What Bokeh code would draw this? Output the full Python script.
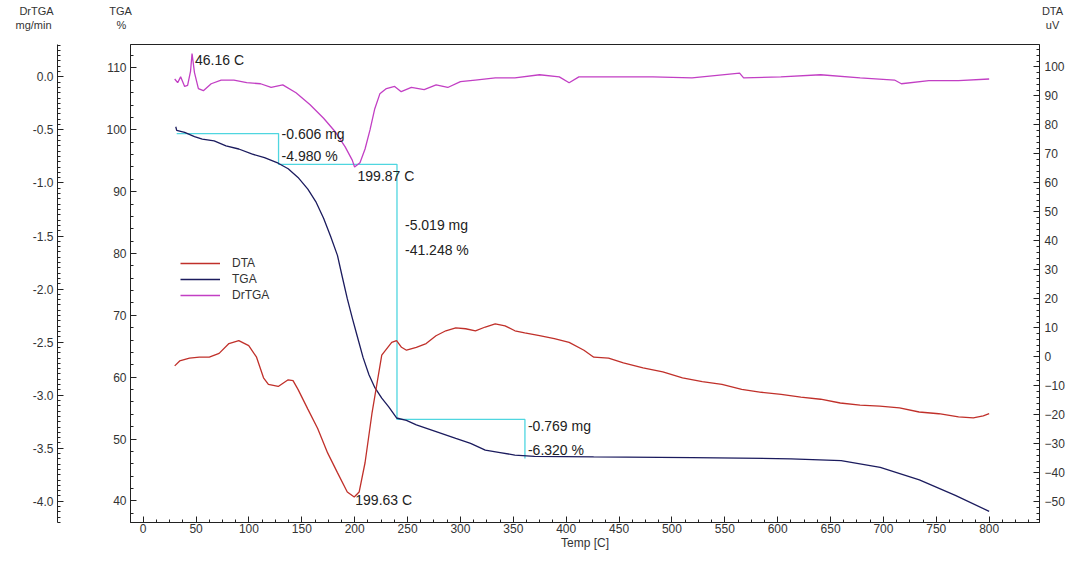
import numpy as np
from bokeh.plotting import figure
from bokeh.layouts import column
from bokeh.models import (Range1d, LinearAxis, FixedTicker, NumeralTickFormatter,
                          Legend, LegendItem)
from bokeh.embed import file_html
from bokeh.resources import INLINE
from bokeh.core.properties import value

# ---------------- data ----------------
temp_tga = [30.8, 31.7, 39.2, 48.5, 55.9, 67.1, 78.3, 90.4, 102.6, 114.7, 127.7, 137.1,
            146.4, 155.7, 163.2, 170.6, 177.2, 183.7, 188.3, 193.0, 197.7, 202.3, 207.9,
            213.5, 219.1, 225.6, 232.2, 239.6, 248.9, 258.3, 277.0, 295.6, 309.6, 323.5,
            337.5, 351.5, 370.0, 426.0, 519.0, 612.6, 660.0, 697.0, 734.0, 768.0, 800.0]
tga_pct = [100.5, 99.9, 99.6, 98.9, 98.5, 98.2, 97.4, 96.9, 96.1, 95.5, 94.6, 93.7,
           92.3, 90.4, 88.4, 85.7, 82.8, 79.7, 76.2, 72.7, 69.6, 66.7, 63.2,
           60.4, 58.3, 56.6, 55.2, 53.4, 53.0, 52.3, 51.2, 50.1, 49.3, 48.2,
           47.8, 47.4, 47.2, 47.1, 47.0, 46.8, 46.5, 45.4, 43.4, 40.9, 38.3]

temp_dta = [29.8, 34.5, 43.8, 53.1, 62.5, 71.8, 81.1, 90.4, 99.8, 107.2, 113.8, 118.4,
            127.7, 137.1, 141.7, 146.4, 155.7, 165.0, 174.4, 183.7, 193.0, 199.6, 204.2,
            209.8, 216.3, 225.6, 235.0, 239.6, 244.3, 249.0, 258.3, 267.6, 276.9, 286.2,
            295.6, 304.9, 314.2, 323.5, 332.9, 342.2, 351.5, 360.8, 374.8, 388.8, 402.8,
            416.8, 426.1, 440.1, 454.1, 472.7, 491.4, 510.0, 528.7, 547.3, 566.0, 584.6,
            603.3, 621.9, 640.6, 659.2, 677.9, 696.5, 715.2, 733.8, 752.4, 771.0, 785.0,
            794.4, 800.0]
dta_uv = [-3.1, -1.4, -0.4, -0.1, -0.1, 1.2, 4.6, 5.6, 3.9, -0.1, -7.2, -9.5,
          -10.2, -7.9, -8.2, -11.2, -18.0, -24.7, -33.1, -39.9, -46.6, -48.3, -46.6,
          -36.5, -19.6, 0.6, 5.0, 5.6, 3.3, 2.3, 3.3, 4.6, 7.3, 9.0,
          10.0, 9.7, 9.0, 10.3, 11.4, 10.7, 9.0, 8.3, 7.3, 6.3, 5.0,
          2.3, -0.1, -0.4, -2.1, -3.8, -5.2, -7.2, -8.5, -9.5, -11.2, -12.2,
          -12.9, -13.9, -14.6, -15.9, -16.6, -17.0, -17.6, -19.0, -19.6, -20.7, -21.0,
          -20.3, -19.6]

temp_dr = [29.8, 32.6, 35.4, 39.2, 42.0, 44.8, 46.2, 48.5, 52.2, 56.9, 64.3, 73.7, 85.8,
           97.9, 111.0, 121.0, 132.0, 144.5, 157.6, 170.6, 181.8, 191.0, 197.7, 199.9,
           205.0, 209.8, 214.5, 219.0, 223.8, 230.0, 237.8, 244.0, 253.6, 265.7, 277.0,
           288.0, 300.0, 314.0, 333.0, 351.5, 374.8, 393.5, 402.8, 412.0, 444.8, 482.0,
           519.0, 564.0, 567.8, 603.0, 640.6, 678.0, 710.5, 717.0, 743.0, 771.0, 800.0]
drtga = [-0.02, -0.055, 0.0, -0.09, -0.08, 0.055, 0.22, 0.04, -0.11, -0.13, -0.065, -0.03,
         -0.03, -0.055, -0.065, -0.1, -0.075, -0.15, -0.26, -0.39, -0.52, -0.66, -0.785,
         -0.85, -0.81, -0.68, -0.5, -0.3, -0.16, -0.11, -0.09, -0.14, -0.1, -0.12, -0.075,
         -0.1, -0.045, -0.03, -0.01, -0.01, 0.02, 0.0, -0.055, 0.0, 0.0, 0.0,
         -0.01, 0.035, -0.01, 0.0, 0.02, -0.01, -0.03, -0.065, -0.035, -0.035, -0.02]

# mass-loss steps (TGA analysis)
step_temps = [31.7, 128.0, 240.0, 361.0]
step_levels = [99.4, 94.42, 53.172, 46.852]
step_mg = ["-0.606 mg", "-5.019 mg", "-0.769 mg"]
step_pct = ["-4.980 %", "-41.248 %", "-6.320 %"]

# peak labels
dr_peak_temps = [46.16, 199.87]
dta_peak_temps = [199.63]

x_ticks = list(range(0, 801, 50))
tga_ticks = list(range(40, 111, 10))
dr_ticks = [-4.0, -3.5, -3.0, -2.5, -2.0, -1.5, -1.0, -0.5, 0.0]
dta_ticks = list(range(-50, 101, 10))

axis_titles = ["DrTGA", "mg/min", "TGA", "%", "DTA", "uV"]

# ---------------- style ----------------
FONT = "Liberation Sans"
C_DTA = "#c0302a"
C_TGA = "#1b1b5e"
C_DR = "#c23fc4"
C_STEP = "#4fd6e0"
C_TXT = "#333333"
W = 1067
TOP_H = 43
MAIN_H = 509

# ---- strip above the plot holding the axis titles ----
top = figure(width=W, height=TOP_H, x_range=Range1d(0, W), y_range=Range1d(TOP_H, 0),
             output_backend="svg", toolbar_location=None, min_border=0,
             x_axis_location=None, y_axis_location=None)
if hasattr(top, "frame_align"):
    top.frame_align = False
top.grid.visible = False
top.outline_line_color = None
top.text(x=[36, 33, 120, 121, 1052, 1052], y=[10, 24, 10, 24, 10, 24], text=axis_titles,
         text_font=value(FONT), text_font_size=value("11px"), text_color=C_TXT,
         text_align="center", text_baseline="middle")

# ---- main plot ----
p = figure(width=W, height=MAIN_H,
           x_range=Range1d(-12, 847.6), y_range=Range1d(36.5, 113.8),
           output_backend="svg", toolbar_location=None,
           min_border_left=130, min_border_top=1, min_border_bottom=30, min_border_right=0)
if hasattr(p, "frame_align"):
    p.frame_align = False
p.grid.visible = False
p.outline_line_color = "#222222"
p.background_fill_color = "white"
p.border_fill_color = "white"
p.extra_y_ranges = {"dr": Range1d(-4.2, 0.305), "dta": Range1d(-57.1, 107.7)}

def style_axis(ax):
    ax.major_tick_in = 6
    ax.major_tick_out = 0
    ax.minor_tick_in = 3
    ax.minor_tick_out = 0
    ax.axis_line_color = "#222222"
    ax.major_tick_line_color = "#222222"
    ax.minor_tick_line_color = "#222222"
    ax.major_label_text_font = FONT
    ax.major_label_text_font_size = "12px"
    ax.major_label_text_color = C_TXT
    ax.major_label_standoff = 4

xa = p.xaxis[0]
style_axis(xa)
xa.ticker = FixedTicker(ticks=x_ticks, minor_ticks=list(np.arange(-12.5, 848, 12.5)))
xa.axis_label = "Temp [C]"
xa.axis_label_text_font = FONT
xa.axis_label_text_font_size = "12px"
xa.axis_label_text_font_style = "normal"
xa.axis_label_text_color = C_TXT
xa.axis_label_standoff = 0
xa.major_label_standoff = 1

ya = p.yaxis[0]
style_axis(ya)
ya.ticker = FixedTicker(ticks=tga_ticks, minor_ticks=list(range(38, 114, 2)))
ya.axis_label = "\u00a0"
ya.axis_label_text_font_size = "28px"
ya.axis_label_standoff = 12

ax_dr = LinearAxis(y_range_name="dr",
                   ticker=FixedTicker(ticks=dr_ticks, minor_ticks=list(np.round(np.arange(-4.2, 0.31, 0.05), 2))),
                   formatter=NumeralTickFormatter(format="0.0"))
style_axis(ax_dr)
p.add_layout(ax_dr, "left")

ax_dta = LinearAxis(y_range_name="dta",
                    ticker=FixedTicker(ticks=dta_ticks, minor_ticks=list(range(-56, 108, 2))))
style_axis(ax_dta)
ax_dta.major_label_standoff = 5
p.add_layout(ax_dta, "right")

# ---------------- curves ----------------
r_step = p.line(step_temps[:1] + [t for t in step_temps[1:] for _ in (0, 1)],
                [lv for lv in step_levels[:-1] for _ in (0, 1)] + step_levels[-1:],
                line_color=C_STEP, line_width=1.3)
r_dr = p.line(temp_dr, drtga, y_range_name="dr", line_color=C_DR, line_width=1.3)
r_tga = p.line(temp_tga, tga_pct, line_color=C_TGA, line_width=1.3)
r_dta = p.line(temp_dta, dta_uv, y_range_name="dta", line_color=C_DTA, line_width=1.3)

# ---------------- annotations ----------------
ann = dict(text_font=value(FONT), text_font_size=value("14px"), text_color="#222222",
           text_baseline="middle", text_align="left")
p.text(x=step_temps[1:], y=step_levels[:-1], text=step_mg,
       x_offset=[3, 8, 3], y_offset=[0, 61, 7], **ann)
p.text(x=step_temps[1:], y=[step_levels[1], step_levels[1], step_levels[3]], text=step_pct,
       x_offset=[3, 8, 3], y_offset=[-8, 86, -8], **ann)
p.text(x=dr_peak_temps, y=[max(drtga), min(drtga)], y_range_name="dr",
       text=["%.2f C" % t for t in dr_peak_temps], x_offset=[3, 3], y_offset=[6, 9], **ann)
p.text(x=dta_peak_temps, y=[min(dta_uv)], y_range_name="dta",
       text=["%.2f C" % t for t in dta_peak_temps], x_offset=[1], y_offset=[3], **ann)

legend = Legend(items=[LegendItem(label="DTA", renderers=[r_dta]),
                       LegendItem(label="TGA", renderers=[r_tga]),
                       LegendItem(label="DrTGA", renderers=[r_dr])],
                location=(50, 219), glyph_width=40, glyph_height=16, label_height=16,
                label_standoff=12, spacing=0, padding=0, margin=0,
                border_line_alpha=0, background_fill_alpha=0,
                label_text_font=FONT, label_text_font_size="12px", label_text_color=C_TXT)
p.add_layout(legend)

layout = column(top, p, spacing=0)
open("out.html", "w").write(file_html(layout, INLINE))
